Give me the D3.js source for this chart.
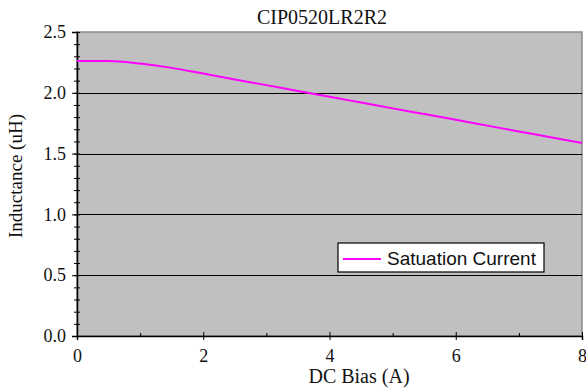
<!DOCTYPE html>
<html>
<head>
<meta charset="utf-8">
<script src="https://cdn.jsdelivr.net/npm/d3@7"></script>
<style>
  body { margin: 0; background: #fff; }
  text { font-family: "Liberation Serif", "Times New Roman", serif; fill: #111; }
</style>
</head>
<body>
<div id="chart"></div>
<script>
// curve
var biasA = [0, 0.5, 1, 1.5, 2, 2.5, 3, 3.5, 4, 4.5, 5, 5.5, 6, 6.5, 7, 7.5, 8];
var inductanceUH = [2.262, 2.262, 2.24, 2.205, 2.158, 2.11, 2.063, 2.015, 1.968, 1.92, 1.872, 1.825, 1.778, 1.73, 1.682, 1.635, 1.587];
var xTicks = [0, 2, 4, 6, 8];
var yTicks = [0, 0.5, 1.0, 1.5, 2.0, 2.5];
var seriesName = 'Satuation Current';

var W = 586, H = 392;
var m = { left: 77, right: 4, top: 32, bottom: 56 };

var svg = d3.select('#chart')
  .append('svg')
  .attr('width', W)
  .attr('height', H);

var x = d3.scaleLinear().domain([0, 8]).range([m.left, W - m.right]);
var y = d3.scaleLinear().domain([0, 2.5]).range([H - m.bottom, m.top]);

// plot background
svg.append('rect')
  .attr('x', x(0))
  .attr('y', y(2.5))
  .attr('width', x(8) - x(0))
  .attr('height', y(0) - y(2.5))
  .attr('fill', '#c0c0c0')
  .attr('stroke', '#8a8a8a')
  .attr('stroke-width', 1.5);

// grid lines
svg.append('g')
  .selectAll('line')
  .data(yTicks.filter(function(d) { return d > 0 && d < 2.5; }))
  .enter().append('line')
  .attr('x1', x(0)).attr('x2', x(8))
  .attr('y1', function(d) { return Math.round(y(d)) + 0.5; })
  .attr('y2', function(d) { return Math.round(y(d)) + 0.5; })
  .attr('stroke', '#000')
  .attr('stroke-width', 1.2);

// axes
var yAxis = d3.axisLeft(y).tickValues(yTicks).tickFormat(d3.format('.1f')).tickSize(5).tickPadding(6);
var yMinor = d3.axisLeft(y).tickValues(d3.range(0, 2.51, 0.1)).tickFormat('').tickSizeInner(2).tickSizeOuter(0);
var xAxis = d3.axisBottom(x).tickValues(xTicks).tickFormat(d3.format('d')).tickSize(4).tickPadding(9);
var xMinor = d3.axisBottom(x).tickValues([1, 3, 5, 7]).tickFormat('').tickSizeInner(-3).tickSizeOuter(0);

var gy = svg.append('g').attr('transform', 'translate(' + x(0) + ',0)');
gy.call(yMinor);
gy.selectAll('.tick line').attr('x2', -3).attr('x1', 3).attr('stroke', '#000');
gy.select('.domain').remove();

var gy2 = svg.append('g').attr('transform', 'translate(' + x(0) + ',0)').call(yAxis);
gy2.select('.domain').attr('stroke', '#000').attr('stroke-width', 1.5);
gy2.selectAll('text').attr('font-size', 18).attr('font-family', '"Liberation Serif", serif');

var gx = svg.append('g').attr('transform', 'translate(0,' + y(0) + ')').call(xMinor);
gx.select('.domain').remove();

var gx2 = svg.append('g').attr('transform', 'translate(0,' + y(0) + ')').call(xAxis);
gx2.selectAll('.tick line').attr('y1', -4).attr('y2', 4);
gx2.select('.domain').attr('stroke', '#000').attr('stroke-width', 1.5);
gx2.selectAll('text').attr('font-size', 18).attr('font-family', '"Liberation Serif", serif');

// curve
var line = d3.line()
  .x(function(d) { return x(d[0]); })
  .y(function(d) { return y(d[1]); })
  .curve(d3.curveMonotoneX);

svg.append('path')
  .datum(d3.zip(biasA, inductanceUH))
  .attr('d', line)
  .attr('fill', 'none')
  .attr('stroke', '#ff00ff')
  .attr('stroke-width', 2);

// titles
svg.append('text')
  .attr('x', 322).attr('y', 24)
  .attr('text-anchor', 'middle')
  .attr('font-size', 20)
  .text('CIP0520LR2R2');

svg.append('text')
  .attr('x', 359).attr('y', 383)
  .attr('text-anchor', 'middle')
  .attr('font-size', 20)
  .text('DC Bias (A)');

svg.append('text')
  .attr('transform', 'translate(22,176) rotate(-90)')
  .attr('text-anchor', 'middle')
  .attr('font-size', 19)
  .text('Inductance (uH)');

// legend
var lg = svg.append('g').attr('transform', 'translate(338,243)');
lg.append('rect')
  .attr('width', 206).attr('height', 29)
  .attr('fill', '#fff')
  .attr('stroke', '#000')
  .attr('stroke-width', 1.2);
lg.append('line')
  .attr('x1', 5).attr('x2', 43)
  .attr('y1', 16).attr('y2', 16)
  .attr('stroke', '#ff00ff')
  .attr('stroke-width', 2);
lg.append('text')
  .attr('x', 49).attr('y', 22)
  .attr('font-size', 19)
  .style('font-family', '"Liberation Sans", Arial, sans-serif')
  .text(seriesName);
</script>
</body>
</html>
